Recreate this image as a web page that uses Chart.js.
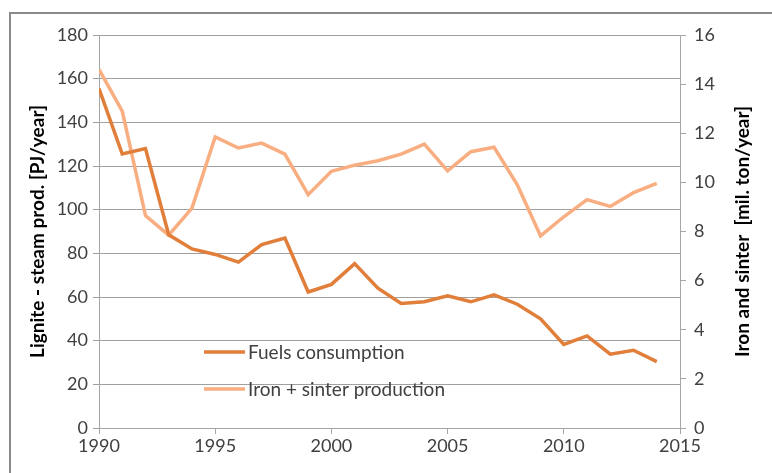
<!DOCTYPE html>
<html>
<head>
<meta charset="utf-8">
<script src="https://cdn.jsdelivr.net/npm/chart.js@4/dist/chart.umd.min.js"></script>
<style>
  html, body { margin: 0; padding: 0; background: #fff; }
  #wrap { width: 772px; height: 473px; position: relative; }
</style>
</head>
<body>
<div id="wrap"><canvas id="chart" width="772" height="473"></canvas></div>
<script>
const years = [1990, 1991, 1992, 1993, 1994, 1995, 1996, 1997, 1998, 1999, 2000, 2001, 2002,
  2003, 2004, 2005, 2006, 2007, 2008, 2009, 2010, 2011, 2012, 2013, 2014];
// PJ/year, left axis
const fuelsConsumption = [155.5, 125.5, 128, 88.5, 82, 79.5, 76, 84, 87, 62.3, 65.8, 75.3, 64,
  57, 57.8, 60.5, 57.8, 61, 56.7, 50, 38.3, 42.2, 33.8, 35.6, 30.4];
// mil. ton/year, right axis
const ironSinter = [14.6, 12.9, 8.65, 7.85, 8.95, 11.85, 11.4, 11.6, 11.15, 9.5, 10.45, 10.7, 10.88,
  11.15, 11.56, 10.47, 11.25, 11.43, 9.9, 7.82, 8.6, 9.3, 9.02, 9.58, 9.96];
const xTicks = [1990, 1995, 2000, 2005, 2010, 2015];
const rightTitle = "Iron and sinter  [mil. ton/year]";

const FONT = "Lato, 'Liberation Sans', sans-serif";
const darkOrange = "#E07E3A";
const lightOrange = "#F8AE80";

const frame = {
  id: "frame",
  beforeDraw(chart) {
    const ctx = chart.ctx;
    ctx.save();
    ctx.fillStyle = "#fff";
    ctx.fillRect(0, 0, chart.width, chart.height);
    ctx.strokeStyle = "#8a8a8a";
    ctx.lineWidth = 2;
    ctx.strokeRect(10, 13, 900, 600);
    ctx.restore();
  }
};

// legend sits inside the plot, and the right title reads bottom-to-top like the left one
const extras = {
  id: "extras",
  afterDraw(chart) {
    const ctx = chart.ctx;
    const area = chart.chartArea;
    ctx.save();
    ctx.font = "19px " + FONT;
    ctx.textBaseline = "middle";
    chart.data.datasets.forEach((ds, i) => {
      const y = 352 + i * 37;
      ctx.strokeStyle = ds.borderColor;
      ctx.lineWidth = 3.5;
      ctx.beginPath();
      ctx.moveTo(204, y);
      ctx.lineTo(245, y);
      ctx.stroke();
      ctx.fillStyle = "#404040";
      ctx.fillText(ds.label, 248, y + 1);
    });

    ctx.translate(743, (area.top + area.bottom) / 2);
    ctx.rotate(-Math.PI / 2);
    ctx.font = "bold 19px " + FONT;
    ctx.textAlign = "center";
    ctx.fillStyle = "#000";
    ctx.fillText(rightTitle, 0, 0);
    ctx.restore();
  }
};

new Chart(document.getElementById("chart"), {
  type: "line",
  data: {
    datasets: [
      {
        label: "Fuels consumption",
        data: years.map((yr, i) => ({ x: yr, y: fuelsConsumption[i] })),
        borderColor: darkOrange,
        borderWidth: 3.5,
        pointRadius: 0,
        tension: 0,
        yAxisID: "y",
      },
      {
        label: "Iron + sinter production",
        data: years.map((yr, i) => ({ x: yr, y: ironSinter[i] })),
        borderColor: lightOrange,
        borderWidth: 3.5,
        pointRadius: 0,
        tension: 0,
        yAxisID: "y2",
      },
    ],
  },
  options: {
    responsive: false,
    animation: false,
    layout: { padding: { left: 22, right: 14, top: 35, bottom: 10 } },
    plugins: { legend: { display: false }, tooltip: { enabled: false } },
    scales: {
      x: {
        type: "linear",
        min: 1990,
        max: 2015,
        afterBuildTicks: axis => { axis.ticks = xTicks.map(v => ({ value: v })); },
        afterFit: axis => { axis.height = 35; },
        ticks: {
          color: "#404040", font: { family: FONT, size: 18 }, padding: 1, maxRotation: 0,
          callback: v => String(v),
        },
        grid: { drawOnChartArea: false, color: "#a6a6a6", tickLength: 6 },
        border: { color: "#a6a6a6" },
      },
      y: {
        position: "left",
        min: 0,
        max: 180,
        ticks: { stepSize: 20, color: "#404040", font: { family: FONT, size: 18 }, padding: 5 },
        afterFit: axis => { axis.width = 77; },
        grid: { color: "#a0a0a0", tickLength: 6 },
        border: { color: "#a6a6a6" },
        title: {
          display: true,
          text: "Lignite - steam prod. [PJ/year]",
          color: "#000",
          font: { family: FONT, size: 19, weight: "bold" },
        },
      },
      y2: {
        position: "right",
        min: 0,
        max: 16,
        ticks: { stepSize: 2, color: "#404040", font: { family: FONT, size: 18 }, padding: 8 },
        afterFit: axis => { axis.width = 78; },
        grid: { drawOnChartArea: false, color: "#a6a6a6", tickLength: 6 },
        border: { color: "#a6a6a6" },
      },
    },
  },
  plugins: [frame, extras],
});
</script>
</body>
</html>
